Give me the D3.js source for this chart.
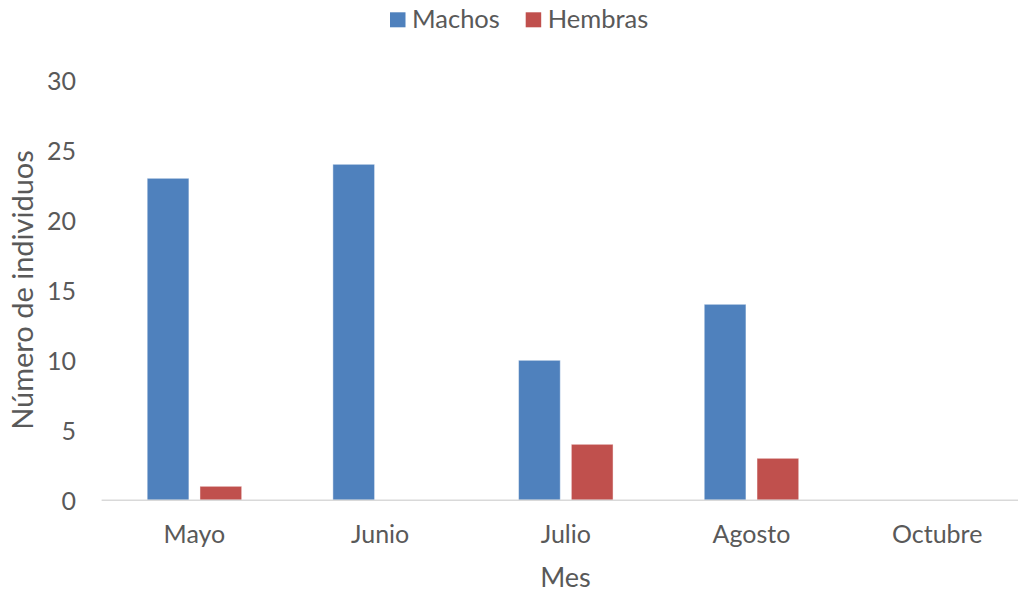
<!DOCTYPE html>
<html>
<head>
<meta charset="utf-8">
<script src="https://cdn.jsdelivr.net/npm/d3@7/dist/d3.min.js"></script>
<style>
  html, body { margin: 0; padding: 0; background: #fff; }
  svg { display: block; }
  text { font-family: Lato, "Open Sans", sans-serif; fill: #595959; }
</style>
</head>
<body>
<svg id="chart" width="1018" height="592"></svg>
<script>
// Monthly counts of individuals by sex
const months = ["Mayo", "Junio", "Julio", "Agosto", "Octubre"];
const seriesNames = ["Machos", "Hembras"];
const machos = [23, 24, 10, 14, 0];
const hembras = [1, 0, 4, 3, 0];
const yTicks = [0, 5, 10, 15, 20, 25, 30];
const colors = ["#4F81BD", "#C0504D"];

const seriesValues = [machos, hembras];
const rows = months.map((m, i) => ({
  month: m,
  values: seriesNames.map((s, j) => ({ series: s, value: seriesValues[j][i], color: colors[j] }))
}));

const svg = d3.select("#chart");
const plot = { left: 101.6, right: 1030, top: 80.3, bottom: 500.3 };

const x0 = d3.scaleBand().domain(months).range([plot.left, plot.right]).paddingInner(0).paddingOuter(0);
const x1 = d3.scaleBand().domain(seriesNames).range([0, x0.bandwidth()]).paddingInner(0.21).paddingOuter(0.864);
const y = d3.scaleLinear().domain([0, 30]).range([plot.bottom, plot.top]);

// Bars
const groups = svg.append("g").selectAll("g")
  .data(rows).join("g")
  .attr("transform", d => `translate(${x0(d.month)},0)`);

groups.selectAll("rect")
  .data(d => d.values.filter(v => v.value > 0))
  .join("rect")
  .attr("x", d => x1(d.series))
  .attr("y", d => y(d.value))
  .attr("width", x1.bandwidth())
  .attr("height", d => y(0) - y(d.value))
  .attr("fill", d => d.color)
  .attr("stroke", "#ffffff")
  .attr("stroke-opacity", 0.45)
  .attr("stroke-width", 1);

// Category axis
const xAxis = svg.append("g")
  .attr("transform", `translate(0,${plot.bottom})`)
  .call(d3.axisBottom(x0).tickSize(0).tickPadding(0));
xAxis.select(".domain").remove();
xAxis.append("line")
  .attr("x1", plot.left).attr("x2", 1018)
  .attr("y1", 0).attr("y2", 0)
  .attr("stroke", "#d9d9d9").attr("stroke-width", 1.6);
xAxis.selectAll(".tick text")
  .attr("y", 43).attr("dy", 0)
  .style("font-family", "Lato, sans-serif")
  .style("font-size", "25px")
  .attr("fill", "#595959");

// Value axis (labels only)
const yAxis = svg.append("g")
  .attr("transform", `translate(76,0)`)
  .call(d3.axisLeft(y).tickValues(yTicks).tickSize(0).tickPadding(0));
yAxis.select(".domain").remove();
yAxis.selectAll(".tick text")
  .attr("dy", "0.36em")
  .style("font-family", "Lato, sans-serif")
  .style("font-size", "25px")
  .attr("fill", "#595959");

// Axis titles
svg.append("text")
  .attr("transform", "translate(33,290) rotate(-90)")
  .attr("text-anchor", "middle")
  .style("font-size", "29px")
  .text("Número de individuos");

svg.append("text")
  .attr("x", 565.5).attr("y", 587)
  .attr("text-anchor", "middle")
  .style("font-size", "27px")
  .text("Mes");

// Legend
const legendItems = [
  { name: "Machos", color: colors[0], x: 390 },
  { name: "Hembras", color: colors[1], x: 525.7 }
];
const legend = svg.append("g").selectAll("g")
  .data(legendItems).join("g")
  .attr("transform", d => `translate(${d.x},0)`);
legend.append("rect")
  .attr("x", 0).attr("y", 12.3)
  .attr("width", 15.5).attr("height", 15)
  .attr("fill", d => d.color);
legend.append("text")
  .attr("x", 22).attr("y", 27.8)
  .style("font-size", "25.5px")
  .text(d => d.name);
</script>
</body>
</html>
